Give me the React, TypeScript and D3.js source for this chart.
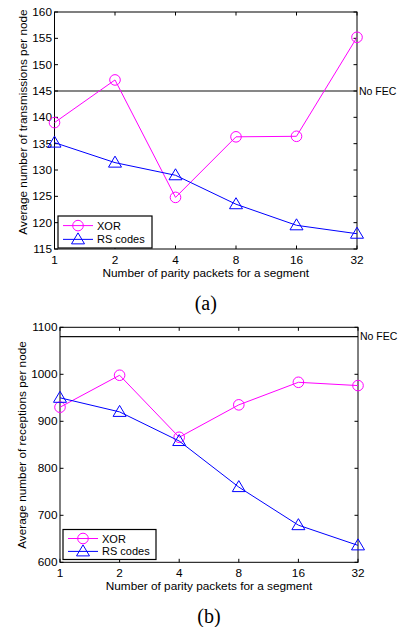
import React from "react";
import * as d3 from "d3";

// parity packets per segment (x axis, log2 spacing)
const parity = [1, 2, 4, 8, 16, 32];

// (a) average number of transmissions per node
const txXor = [139.0, 147.1, 124.8, 136.3, 136.4, 155.2];
const txRs = [135.2, 131.4, 129.0, 123.5, 119.5, 117.9];
const txNoFec = 145;
const txTicks = [115, 120, 125, 130, 135, 140, 145, 150, 155, 160];

// (b) average number of receptions per node
const rxXor = [930, 998, 866, 935, 983, 976];
const rxRs = [950, 920, 858, 760, 679, 636];
const rxNoFec = 1080;
const rxTicks = [600, 700, 800, 900, 1000, 1100];

const MAGENTA = "#ff00ff";
const BLUE = "#0000ff";
const FONT = "'Liberation Sans', Arial, sans-serif";

const triPath = (cx: number, cy: number) =>
  `M${cx},${cy - 6.5}L${cx + 6.5},${cy + 4.5}L${cx - 6.5},${cy + 4.5}Z`;

type PanelProps = {
  left: number;
  right: number;
  top: number;
  bottom: number;
  yDomain: [number, number];
  yTicks: number[];
  xor: number[];
  rs: number[];
  noFec: number;
  yLabel: string;
  yLabelX: number;
  yLabelY: number;
  caption: string;
  legendBox: [number, number, number, number];
};

function Panel(p: PanelProps) {
  const x = d3.scaleLog().base(2).domain([1, 32]).range([p.left, p.right]);
  const y = d3.scaleLinear().domain(p.yDomain).range([p.bottom, p.top]);
  const line = d3
    .line<number>()
    .x((_, i) => x(parity[i]))
    .y((d) => y(d));
  const [lx, ly, lw, lh] = p.legendBox;
  const midX = (p.left + p.right) / 2;

  return (
    <g>
      {/* No FEC reference line */}
      <line x1={p.left} x2={p.right} y1={y(p.noFec)} y2={y(p.noFec)} stroke="#111" strokeWidth={1.2} />
      <text x={p.right + 2} y={y(p.noFec) + 3.5} fontSize={10.5} fontFamily={FONT}>
        No FEC
      </text>

      {/* axes box */}
      <rect x={p.left} y={p.top} width={p.right - p.left} height={p.bottom - p.top} fill="none" stroke="#000" strokeWidth={1} />

      {p.yTicks.map((t) => (
        <g key={"y" + t}>
          <line x1={p.left} x2={p.left + 3.5} y1={y(t)} y2={y(t)} stroke="#000" />
          <line x1={p.right} x2={p.right - 3.5} y1={y(t)} y2={y(t)} stroke="#000" />
          <text x={p.left - 2.5} y={y(t) + 4} fontSize={11.8} fontFamily={FONT} textAnchor="end">
            {t}
          </text>
        </g>
      ))}
      {parity.map((t) => (
        <g key={"x" + t}>
          <line x1={x(t)} x2={x(t)} y1={p.bottom} y2={p.bottom - 3.5} stroke="#000" />
          <line x1={x(t)} x2={x(t)} y1={p.top} y2={p.top + 3.5} stroke="#000" />
          <text x={x(t)} y={p.bottom + 15} fontSize={11.8} fontFamily={FONT} textAnchor="middle">
            {t}
          </text>
        </g>
      ))}

      {/* series */}
      <path d={line(p.xor) || ""} fill="none" stroke={MAGENTA} strokeWidth={1} />
      {p.xor.map((v, i) => (
        <circle key={"c" + i} cx={x(parity[i])} cy={y(v)} r={5.3} fill="none" stroke={MAGENTA} strokeWidth={1} />
      ))}
      <path d={line(p.rs) || ""} fill="none" stroke={BLUE} strokeWidth={1} />
      {p.rs.map((v, i) => (
        <path key={"t" + i} d={triPath(x(parity[i]), y(v))} fill="none" stroke={BLUE} strokeWidth={1} />
      ))}

      {/* legend */}
      <rect x={lx} y={ly} width={lw} height={lh} fill="#fff" stroke="#000" strokeWidth={1.2} />
      <line x1={lx + 5} x2={lx + 35} y1={ly + lh * 0.3} y2={ly + lh * 0.3} stroke={MAGENTA} />
      <circle cx={lx + 20} cy={ly + lh * 0.3} r={5.3} fill="none" stroke={MAGENTA} />
      <text x={lx + 39} y={ly + lh * 0.3 + 4} fontSize={11} fontFamily={FONT}>
        XOR
      </text>
      <line x1={lx + 5} x2={lx + 35} y1={ly + lh * 0.73} y2={ly + lh * 0.73} stroke={BLUE} />
      <path d={triPath(lx + 20, ly + lh * 0.73)} fill="none" stroke={BLUE} />
      <text x={lx + 39} y={ly + lh * 0.73 + 4} fontSize={11} fontFamily={FONT}>
        RS codes
      </text>

      {/* labels */}
      <text x={midX} y={p.bottom + 28} fontSize={11.8} fontFamily={FONT} textAnchor="middle">
        Number of parity packets for a segment
      </text>
      <text
        transform={`translate(${p.yLabelX},${p.yLabelY}) rotate(-90)`}
        fontSize={11.8}
        fontFamily={FONT}
        textAnchor="middle"
      >
        {p.yLabel}
      </text>
      <text x={midX} y={p.bottom + 61} fontSize={20} fontFamily="'Liberation Serif', 'Times New Roman', serif" textAnchor="middle">
        {p.caption}
      </text>
    </g>
  );
}

export default function App() {
  return (
    <svg width={399} height={627} style={{ position: "absolute", left: 0, top: 0, background: "#fff" }}>
      <Panel
        left={54.5}
        right={357}
        top={12}
        bottom={249}
        yDomain={[115, 160]}
        yTicks={txTicks}
        xor={txXor}
        rs={txRs}
        noFec={txNoFec}
        yLabel="Average number of transmissions per node"
        yLabelX={27}
        yLabelY={122}
        caption="(a)"
        legendBox={[58, 216, 94, 32]}
      />
      <Panel
        left={60}
        right={358}
        top={327.3}
        bottom={562.3}
        yDomain={[600, 1100]}
        yTicks={rxTicks}
        xor={rxXor}
        rs={rxRs}
        noFec={rxNoFec}
        yLabel="Average number of receptions per node"
        yLabelX={26}
        yLabelY={445}
        caption="(b)"
        legendBox={[63, 529.5, 93, 30]}
      />
    </svg>
  );
}
